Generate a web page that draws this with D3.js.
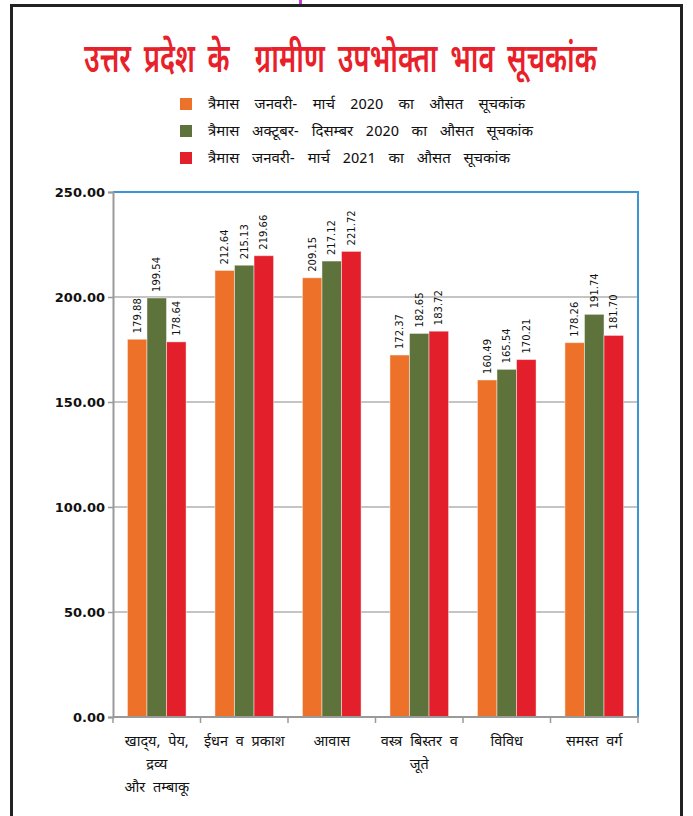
<!DOCTYPE html>
<html><head><meta charset="utf-8">
<script src="https://cdn.jsdelivr.net/npm/d3@7/dist/d3.min.js"></script>
<style>body{margin:0;background:#fff}svg{display:block}text{white-space:pre}</style>
</head><body><svg id="c" width="693" height="816"></svg>
<script>
const title = "उत्तर प्रदेश के  ग्रामीण उपभोक्ता भाव सूचकांक";
const seriesNames = [
  "त्रैमास जनवरी- मार्च 2020 का औसत सूचकांक",
  "त्रैमास अक्टूबर- दिसम्बर 2020 का औसत सूचकांक",
  "त्रैमास जनवरी- मार्च 2021 का औसत सूचकांक"
];
const categories = ["खाद्\u200Cय, पेय, द्रव्य और तम्बाकू", "ईधन व प्रकाश", "आवास", "वस्त्र बिस्तर व जूते", "विविध", "समस्त वर्ग"];
const categoryLines = [["खाद्\u200Cय, पेय,", "द्रव्य", "और तम्बाकू"], ["ईधन व प्रकाश"], ["आवास"], ["वस्त्र बिस्तर व", "जूते"], ["विविध"], ["समस्त वर्ग"]];
const jan2020 = [179.88, 212.64, 209.15, 172.37, 160.49, 178.26];
const octDec2020 = [199.54, 215.13, 217.12, 182.65, 165.54, 191.74];
const jan2021 = [178.64, 219.66, 221.72, 183.72, 170.21, 181.70];
const yTicks = [0, 50, 100, 150, 200, 250];
const colors = ["#EE7129", "#5E733B", "#E31F2C"];

const series = [jan2020, octDec2020, jan2021];
const svg = d3.select("#c");
const dev = "'Noto Sans Devanagari','Noto Sans',sans-serif";

// outer frame
svg.append("rect").attr("x", 11.5).attr("y", 5.5).attr("width", 670).attr("height", 830)
  .attr("fill", "none").attr("stroke", "#222").attr("stroke-width", 3);
svg.append("rect").attr("x", 299).attr("y", 0).attr("width", 3).attr("height", 4).attr("fill", "#c040d0");

// title (horizontally condensed)
const tg = svg.append("g");
const tt = tg.append("text").attr("x", 0).attr("y", 0)
  .attr("fill", "#E8202A").attr("font-family", dev).attr("font-weight", 600)
  .attr("font-size", 40).attr("word-spacing", 8).text(title);
const tw = tt.node().getComputedTextLength();
tg.attr("transform", `translate(84,72) scale(${513 / tw},1)`);

// legend
const legendWidths = [317, 325, 302];
const lg = svg.append("g");
seriesNames.forEach((n, i) => {
  const y = 104 + i * 27;
  lg.append("rect").attr("x", 180).attr("y", y - 6).attr("width", 12).attr("height", 12).attr("fill", colors[i]);
  const t = lg.append("text").attr("x", 208).attr("y", y + 5).attr("font-family", dev).attr("font-size", 15)
    .attr("fill", "#111").text(n);
  const nat = t.node().getComputedTextLength();
  const spaces = n.split(" ").length - 1;
  t.attr("word-spacing", Math.max(0, (legendWidths[i] - nat) / spaces));
});

const m = {l: 113, r: 638, t: 192, b: 717};
const x0 = d3.scaleBand().domain(categories).range([m.l, m.r]).paddingInner(0.33).paddingOuter(0.165);
const x1 = d3.scaleBand().domain([0, 1, 2]).range([0, x0.bandwidth()]);
const y = d3.scaleLinear().domain([0, 250]).range([m.b, m.t]);

// grid
svg.append("g").selectAll("line").data(yTicks.filter(t => t > 0 && t < 250)).join("line")
  .attr("x1", m.l).attr("x2", m.r).attr("y1", d => y(d)).attr("y2", d => y(d))
  .attr("stroke", "#b0b0b0").attr("stroke-width", 1.5);

// bars
series.forEach((vals, si) => {
  svg.append("g").selectAll("rect").data(vals).join("rect")
    .attr("x", (d, i) => x0(categories[i]) + x1(si))
    .attr("y", d => y(d)).attr("width", x1.bandwidth()).attr("height", d => y(0) - y(d))
    .attr("fill", colors[si]).attr("stroke", "rgba(255,255,255,0.45)").attr("stroke-width", 1);
  svg.append("g").selectAll("text").data(vals).join("text")
    .attr("transform", (d, i) => `translate(${x0(categories[i]) + x1(si) + x1.bandwidth() / 2 + 3.5},${y(d) - 6}) rotate(-90)`)
    .attr("font-family", "'DejaVu Sans',sans-serif").attr("font-size", 10).attr("fill", "#111")
    .text(d => d.toFixed(2));
});

// plot border (blue top/right)
svg.append("path").attr("d", `M${m.l},${m.t}H${m.r}V${m.b}`).attr("fill", "none")
  .attr("stroke", "#3D95D3").attr("stroke-width", 2);

// y axis
const ya = svg.append("g").attr("transform", `translate(${m.l},0)`)
  .call(d3.axisLeft(y).tickValues(yTicks).tickSize(5).tickPadding(3).tickFormat(d3.format(".2f")));
ya.select(".domain").attr("stroke", "#9a9a9a").attr("stroke-width", 2);
ya.selectAll(".tick line").attr("stroke", "#9a9a9a").attr("stroke-width", 1.5);
ya.selectAll("text").attr("font-family", "'DejaVu Sans',sans-serif").attr("font-weight", "bold")
  .attr("font-size", 13).attr("fill", "#111");

// x axis
svg.append("line").attr("x1", m.l).attr("x2", m.r).attr("y1", m.b).attr("y2", m.b)
  .attr("stroke", "#9a9a9a").attr("stroke-width", 2);
const step = x0.step();
const bounds = categories.map((c, i) => x0(c) - x0.paddingInner() * step / 2).concat([m.r]);
svg.append("g").selectAll("line").data(bounds).join("line")
  .attr("x1", d => d).attr("x2", d => d).attr("y1", m.b).attr("y2", m.b + 6)
  .attr("stroke", "#9a9a9a").attr("stroke-width", 1.5);
categories.forEach((c, i) => {
  const cx = x0(c) + x0.bandwidth() / 2;
  categoryLines[i].forEach((ln, j) => {
    svg.append("text").attr("x", cx).attr("y", 746 + j * 23).attr("text-anchor", "middle")
      .attr("font-family", dev).attr("font-size", 14.5).attr("word-spacing", 4).attr("fill", "#111").text(ln);
  });
});
</script></body></html>
